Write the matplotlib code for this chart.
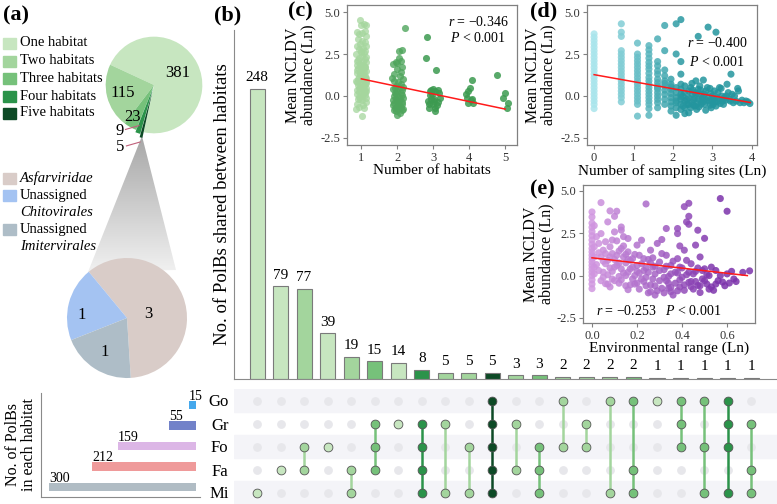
import numpy as np
import matplotlib
matplotlib.use('Agg')
import matplotlib.pyplot as plt
from matplotlib.patches import Rectangle, Polygon
from matplotlib.colors import LinearSegmentedColormap, Normalize

plt.rcParams['font.family'] = ['Liberation Serif', 'DejaVu Serif']
plt.rcParams['mathtext.fontset'] = 'custom'
plt.rcParams['mathtext.rm'] = 'Liberation Serif'
plt.rcParams['mathtext.it'] = 'Liberation Serif:italic'
plt.rcParams['axes.unicode_minus'] = False

# ---------------- data ----------------
habitats = ['Go', 'Gr', 'Fo', 'Fa', 'Mi']
habitat_sizes = [15, 55, 159, 212, 300]
habitat_colors = ['#45a8ec', '#7282c9', '#dcb6e6', '#ef9a9a', '#b0bcc4']

share_counts = [248, 79, 77, 39, 19, 15, 14, 8, 5, 5, 5, 3, 3, 2, 2, 2, 2, 1, 1, 1, 1, 1]
share_sets = ['Mi', 'Fa', 'Fo Fa', 'Fo', 'Fa Mi', 'Gr Fo Fa', 'Gr', 'Gr Fo Fa Mi',
              'Gr Mi', 'Fo Mi', 'Go Gr Fo Fa Mi', 'Gr Fa', 'Fo Fa Mi', 'Go Fo', 'Gr Fo',
              'Go Mi', 'Go Fa Mi', 'Go', 'Go Gr Fo', 'Go Fo Mi', 'Go Gr Fo Mi', 'Gr Fa Mi']

degree_labels = ['One habitat', 'Two habitats', 'Three habitats', 'Four habitats', 'Five habitats']
degree_counts = [381, 115, 23, 9, 5]
degree_colors = ['#c7e6c0', '#a3d59d', '#76c17a', '#2b934a', '#0d4a26']

taxa_counts = [3, 1, 1]
taxa_colors = ['#d9ccc8', '#a4c3f2', '#aebdc7']

# (c) abundance vs number of habitats
c_h1 = [(0.95, 4.55), (1.08, 4.30), (1.12, 4.25), (0.98, 4.20), (1.10, 3.85), (0.88, 3.80), (1.03, 3.75),
        (0.93, 3.70), (1.13, 3.55), (0.90, 3.40), (1.01, 3.30), (1.09, 3.20), (0.96, 3.10), (1.14, 3.00),
        (0.87, 2.95), (1.05, 2.85), (0.92, 2.80), (1.11, 2.70), (0.99, 2.65), (1.07, 2.55), (0.86, 2.50),
        (1.02, 2.40), (1.12, 2.35), (0.94, 2.25), (1.09, 2.20), (0.89, 2.10), (1.04, 2.05), (1.14, 2.00),
        (0.97, 1.90), (0.87, 1.85), (1.06, 1.80), (1.11, 1.70), (0.91, 1.65), (1.00, 1.60), (1.13, 1.50),
        (0.95, 1.45), (1.08, 1.40), (0.88, 1.35), (1.03, 1.25), (1.10, 1.20), (0.93, 1.15), (1.14, 1.05),
        (0.98, 1.00), (1.06, 0.95), (0.86, 0.90), (1.12, 0.80), (0.96, 0.75), (1.09, 0.70), (0.90, 0.65),
        (1.02, 0.55), (1.13, 0.50), (0.92, 0.45), (1.05, 0.40), (0.88, 0.35), (1.10, 0.25), (0.99, 0.20),
        (1.07, 0.15), (0.87, 0.10), (1.11, 0.05), (1.03, 0.00), (0.94, -0.05), (1.14, -0.10), (0.91, -0.20),
        (1.01, -0.25), (1.12, -0.35), (0.89, -0.45), (1.04, -0.55), (0.93, -0.65), (1.08, -0.70),
        (0.86, -0.80), (1.02, -1.20), (1.10, 1.75), (0.97, 1.30), (0.88, 0.85), (1.06, 0.60), (1.13, 0.30),
        (0.90, 2.15), (1.00, 2.60), (1.11, 1.10), (0.95, -0.15), (0.97, 0.50), (1.04, 1.55), (0.91, 1.00),
        (1.07, 0.35), (0.99, 1.85), (1.12, 0.90), (0.93, 0.25), (1.05, 1.15), (0.88, 1.55), (1.01, 0.80)]
c_h2 = [(2.20, 4.05), (2.12, 2.75), (2.05, 2.70), (1.95, 2.05), (2.10, 2.10), (1.88, 1.90), (2.13, 1.75),
        (2.00, 1.60), (1.92, 1.30), (2.08, 1.20), (2.15, 1.00), (1.90, 0.90), (2.02, 0.85), (2.10, 0.70),
        (1.95, 0.60), (2.06, 0.50), (1.88, 0.40), (2.14, 0.35), (2.00, 0.30), (1.93, 0.20), (2.09, 0.15),
        (1.97, 0.10), (2.12, 0.05), (1.90, 0.00), (2.04, -0.05), (2.15, -0.10), (1.95, -0.15), (2.07, -0.20),
        (1.87, -0.25), (2.00, -0.30), (2.12, -0.35), (1.92, -0.40), (2.05, -0.45), (2.14, -0.50),
        (1.89, -0.55), (1.98, -0.60), (2.10, -0.65), (1.93, -0.70), (2.03, -0.80), (2.13, -0.85),
        (1.95, -0.90), (2.08, -1.00), (2.00, -1.15), (1.90, -0.85), (2.16, 0.55), (1.86, 1.05),
        (2.11, 1.45), (1.99, 1.95), (2.06, 2.25), (1.94, 0.45), (2.02, -0.35), (2.17, -0.75)]
c_h3 = [(2.82, 3.53), (2.80, 2.25), (3.08, 1.57), (3.00, 0.43), (2.95, 0.35), (3.04, 0.29), (3.20, -0.10),
        (2.93, -0.20), (2.87, -0.69), (3.04, -0.69), (3.06, -0.92), (2.90, 0.05), (3.12, -0.35),
        (2.98, -0.45), (3.15, 0.20), (2.85, -0.30), (3.10, -0.55), (2.97, 0.10), (3.02, -0.15),
        (2.92, 0.30), (3.13, 0.38), (2.88, -0.50), (3.01, -0.30)]
c_h4 = [(4.07, 0.98), (4.03, 0.49), (3.98, 0.29), (3.94, -0.10), (4.07, -0.16), (4.10, -0.40),
        (3.98, -0.43), (4.05, -0.25), (3.92, 0.10)]
c_h5 = [(4.77, 1.27), (5.00, 0.20), (5.09, -0.40), (5.06, -0.73), (4.95, -0.10)]
c_fit_x = [1, 5]
c_fit_y = [1.02, -0.78]

# (d) abundance vs number of sampling sites (Ln)
d_strip_x = [0.00, 0.69, 1.10, 1.39, 1.61, 1.79, 1.95, 2.08, 2.20]
d_strip_y = [
    [3.7, 3.5, 3.3, 3.1, 2.9, 2.7, 2.5, 2.3, 2.1, 1.9, 1.7, 1.5, 1.3, 1.1, 0.9, 0.7, 0.5, 0.3, 0.1, -0.1, -0.3, -0.5, -0.75],
    [4.3, 3.8, 3.55, 2.7, 2.5, 2.3, 2.1, 1.9, 1.7, 1.5, 1.3, 1.1, 0.9, 0.7, 0.5, 0.3, 0.1, -0.1, -0.35],
    [3.15, 2.5, 2.3, 2.1, 1.9, 1.7, 1.5, 1.3, 1.1, 0.9, 0.7, 0.5, 0.3, 0.1, -0.1, -0.3, -0.5, -1.2],
    [3.0, 2.75, 2.5, 2.25, 2.0, 1.8, 1.6, 1.35, 1.1, 0.9, 0.7, 0.5, 0.3, 0.1, -0.1, -0.3, -0.5, -0.75, -1.15],
    [3.4, 2.05, 1.8, 1.5, 1.3, 1.0, 0.8, 0.6, 0.5, 0.4, 0.2, 0.0, -0.2, -0.4, -0.7],
    [4.2, 2.7, 1.55, 1.2, 0.9, 0.75, 0.6, 0.35, 0.1, -0.2, -0.5],
    [1.0, 0.7, 0.55, 0.4, 0.15, -0.1, -0.35, -0.6, -0.9],
    [4.3, 2.5, 0.5, 0.2, -0.1, -0.3, -0.4, -0.7, -1.15],
    [4.55, 2.05, 1.3, 0.7, 0.4, 0.1, -0.05, -0.2, -0.5, -0.8],
]
d_scatter = [(2.30, 0.60), (2.30, -0.30), (2.30, -0.70), (2.30, -1.05), (2.35, -0.50), (2.40, 0.30),
             (2.40, -0.10), (2.40, -1.00), (2.45, 0.50), (2.48, 0.75), (2.48, -0.40), (2.48, 0.10),
             (2.52, -0.20), (2.56, 0.20), (2.56, -0.60), (2.58, 0.90), (2.60, -0.80), (2.64, 3.55),
             (2.64, 0.40), (2.64, -0.20), (2.68, 0.60), (2.71, -0.50), (2.71, 0.10), (2.75, -0.10),
             (2.77, 0.95), (2.77, -0.35), (2.83, 0.30), (2.83, -0.85), (2.87, 0.50), (2.89, 4.10),
             (2.89, -0.10), (2.94, 0.45), (2.94, -0.55), (2.97, -0.70), (3.00, 0.00), (3.00, -0.30),
             (3.04, -0.15), (3.05, 0.30), (3.09, 3.80), (3.09, -0.60), (3.14, 0.20), (3.18, 0.50),
             (3.20, -0.45), (3.22, 0.45), (3.26, -0.30), (3.30, -0.10), (3.35, 0.00), (3.37, 0.70),
             (3.43, -0.20), (3.47, 1.30), (3.50, 0.10), (3.53, -0.40), (3.60, -0.30), (3.64, 0.45),
             (3.66, 0.30), (3.70, -0.40), (3.85, -0.30), (3.90, -0.35), (3.95, -0.45), (2.25, 0.00),
             (2.25, -0.60), (2.30, 0.20), (2.35, -0.20), (2.40, -0.50), (2.45, -0.70), (2.50, 0.35),
             (2.52, -0.55), (2.56, -0.10), (2.60, 0.15), (2.62, -0.45), (2.66, -0.65), (2.70, 0.35),
             (2.73, -0.20), (2.80, -0.50), (2.80, 0.10), (2.85, -0.25), (2.92, -0.30), (2.96, 0.15),
             (3.02, -0.50), (3.07, -0.35), (3.12, -0.10), (3.16, -0.30), (3.24, 0.00), (3.28, -0.50),
             (3.33, -0.25), (3.40, 0.20), (3.45, -0.30), (3.56, 0.00), (3.75, -0.25), (3.80, -0.40)]
d_fit_x = [0, 3.96]
d_fit_y = [1.27, -0.39]

# (e) abundance vs environmental range (Ln)
e_pts = [(0.00, 3.76), (0.00, 3.46), (0.00, 3.10), (0.00, 2.85), (0.00, 2.60), (0.00, 2.35), (0.00, 2.10),
         (0.00, 1.85), (0.00, 1.60), (0.00, 1.40), (0.00, 1.20), (0.00, 1.00), (0.00, 0.80), (0.00, 0.60),
         (0.00, 0.40), (0.00, 0.20), (0.00, 0.00), (0.00, -0.25), (0.00, -0.50), (0.00, -0.77),
         (0.01, 2.95), (0.01, 1.70), (0.01, 1.10), (0.01, 0.50), (0.01, 0.10),
         (0.02, 2.30), (0.03, 1.90), (0.03, 0.30), (0.04, 2.48), (0.04, 1.10), (0.04, 4.31), (0.05, 1.50),
         (0.05, -0.10), (0.05, 0.85), (0.06, 0.70), (0.06, 1.30), (0.06, -0.48), (0.07, 3.17), (0.07, 0.05),
         (0.07, -0.50), (0.08, 3.82), (0.08, 1.70), (0.08, -0.67), (0.08, 0.45), (0.09, 1.30), (0.09, 0.25),
         (0.09, 2.10), (0.10, 0.95), (0.10, -0.30), (0.10, 2.58), (0.10, 3.50), (0.11, 3.80), (0.11, 0.60),
         (0.11, 2.05), (0.12, -0.05), (0.12, -0.45), (0.12, 1.45), (0.13, 2.87), (0.13, 2.68), (0.13, 1.60),
         (0.13, 0.40), (0.14, 1.10), (0.14, 2.30), (0.14, 0.15), (0.15, 0.75), (0.15, 0.00), (0.15, -0.60),
         (0.16, -0.83), (0.16, 1.40), (0.16, 0.20), (0.16, 2.19),
         (0.17, 0.90), (0.17, -0.55), (0.18, 0.50), (0.18, -0.20), (0.19, 0.00), (0.19, 1.25), (0.20, 1.80),
         (0.20, -0.44), (0.21, 1.20), (0.21, -0.80), (0.22, 0.70), (0.22, 2.09), (0.23, 0.30), (0.23, -0.35),
         (0.24, -0.10), (0.24, 4.23), (0.24, 0.45), (0.25, -1.02), (0.25, 0.95), (0.26, 1.50), (0.26, -0.55),
         (0.27, 0.50), (0.27, 1.05), (0.28, -1.15), (0.28, 0.10), (0.28, -0.60), (0.29, 1.90), (0.30, 0.80),
         (0.30, -0.30), (0.31, 2.13), (0.31, -0.75), (0.32, -1.02), (0.32, 0.35), (0.33, 2.78), (0.33, 1.20),
         (0.34, -0.05), (0.34, -0.45), (0.35, 0.60), (0.35, -0.70), (0.35, -0.95),
         (0.36, -1.15), (0.37, 0.20), (0.38, 2.78), (0.38, 2.48), (0.38, 1.00), (0.38, 0.15), (0.39, -0.67),
         (0.39, -0.25), (0.39, 1.75), (0.40, 0.45), (0.41, 4.07), (0.41, -0.87), (0.41, 1.50), (0.42, 0.05),
         (0.42, 3.17), (0.43, 3.50), (0.43, 4.27), (0.43, 3.03), (0.43, -0.40), (0.44, 0.70), (0.44, -0.35),
         (0.45, -0.80), (0.46, 0.25), (0.46, 1.80), (0.47, -0.58), (0.47, 2.68), (0.48, 1.10), (0.48, -1.00),
         (0.49, -0.20), (0.50, 0.40), (0.50, 2.20), (0.51, -0.50), (0.52, 0.00), (0.53, -0.67), (0.54, -0.87),
         (0.55, 0.30), (0.56, -0.30), (0.57, 4.55), (0.58, -0.38), (0.60, 3.80), (0.60, 0.10), (0.61, -0.44),
         (0.63, -0.20), (0.67, 0.19), (0.70, 0.28),
         (0.02, 0.65), (0.03, 1.35), (0.04, -0.30), (0.05, 0.20), (0.06, 2.00), (0.07, 0.90), (0.08, 1.10),
         (0.09, -0.20), (0.10, 0.50), (0.11, 1.20), (0.12, 0.75), (0.13, -0.25), (0.14, 1.75), (0.15, 1.25),
         (0.17, 0.40), (0.18, 1.00), (0.19, -0.50), (0.20, 0.60), (0.21, 0.15), (0.22, -0.20), (0.23, 1.00),
         (0.24, -0.60), (0.25, 0.20), (0.26, 0.75), (0.27, -0.20), (0.28, 0.55), (0.29, -0.90), (0.30, 0.30),
         (0.31, 1.30), (0.32, -0.10), (0.33, 0.55), (0.34, -0.75), (0.35, 0.10), (0.36, 0.85), (0.37, -0.45),
         (0.38, -0.90), (0.39, 0.50), (0.40, -0.10), (0.41, -0.55), (0.42, 0.90), (0.43, 0.20), (0.44, -0.65),
         (0.45, 0.10), (0.46, -0.35), (0.47, 0.45), (0.48, -0.60), (0.49, 0.30), (0.50, -0.30), (0.51, 0.05),
         (0.52, -0.80), (0.53, 0.50), (0.55, -0.50), (0.57, 0.00), (0.59, -0.60), (0.62, 0.25), (0.64, -0.35),
         (0.16, 0.95), (0.20, 0.25), (0.26, -0.95), (0.33, -0.30)]
e_fit_x = [0, 0.69]
e_fit_y = [1.05, 0.0]

# ---------------- figure ----------------
W, H = 777, 504
fig = plt.figure(figsize=(W / 100, H / 100), dpi=100)


def box(l, t, r, b):
    # pixel box (left, top, right, bottom) -> figure fraction
    return [l / W, 1 - b / H, (r - l) / W, (b - t) / H]


# overlay for panel (a) legends and the connector
ax_o = fig.add_axes([0, 0, 1, 1])
ax_o.axis('off')
for y, lab, c in zip([43, 61, 78, 96, 113], degree_labels, degree_colors):
    ax_o.add_patch(Rectangle((3, y - 5.5), 13, 11, color=c))
    ax_o.text(20, y, lab, fontsize=10.5, va='center')
ax_o.add_patch(Rectangle((3, 173), 13, 11, color=taxa_colors[0]))
ax_o.text(20, 178, 'Asfarviridae', fontsize=10.5, va='center', style='italic')
ax_o.add_patch(Rectangle((3, 190), 13, 11, color=taxa_colors[1]))
ax_o.text(20, 196, 'Unassigned', fontsize=10.5, va='center')
ax_o.text(20, 212, 'Chitovirales', fontsize=10.5, va='center', style='italic')
ax_o.add_patch(Rectangle((3, 224), 13, 11, color=taxa_colors[2]))
ax_o.text(20, 230, 'Unassigned', fontsize=10.5, va='center')
ax_o.text(20, 246, 'Imitervirales', fontsize=10.5, va='center', style='italic')

tri = Polygon([(142, 136), (88, 272), (176, 270)], closed=True, facecolor='none', edgecolor='none')
ax_o.add_patch(tri)
grad = np.linspace(0, 1, 100).reshape(-1, 1)
gcmap = LinearSegmentedColormap.from_list('g', ['#a4a4a4', '#f2f2f2'])
im = ax_o.imshow(grad, cmap=gcmap, extent=(80, 185, 275, 130), origin='upper', aspect='auto')
im.set_clip_path(tri)
ax_o.set_xlim(0, W)
ax_o.set_ylim(H, 0)

# top pie
ax_p1 = fig.add_axes(box(154 - 58, 85 - 58, 154 + 58, 85 + 58))
w1, _ = ax_p1.pie(degree_counts, colors=degree_colors, startangle=257.8,
                  explode=[0, 0, 0, 0.05, 0.12], wedgeprops=dict(linewidth=0))
ax_p1.set_xlim(-1.2, 1.2)
ax_p1.set_ylim(-1.2, 1.2)
for w, n, r, da in zip(w1[:3], degree_counts[:3], [0.55, 0.66, 0.8], [0, 0, -4]):
    a = np.deg2rad((w.theta1 + w.theta2) / 2 + da)
    ax_p1.text(r * np.cos(a), r * np.sin(a), str(n), ha='center', va='center', fontsize=12)
for n, tx, ty in zip(degree_counts[3:], [-0.72, -0.70], [-0.95, -1.29]):
    ax_p1.plot([tx + 0.13, tx + 0.41], [ty + 0.03, ty + 0.11], color='#c0607a', lw=0.8, clip_on=False)
    ax_p1.text(tx, ty, str(n), ha='center', va='center', fontsize=12)

# bottom pie
ax_p2 = fig.add_axes(box(127 - 72, 318 - 72, 127 + 72, 318 + 72))
w2, _ = ax_p2.pie(taxa_counts, colors=taxa_colors, startangle=273.6, wedgeprops=dict(linewidth=0))
ax_p2.set_xlim(-1.2, 1.2)
ax_p2.set_ylim(-1.2, 1.2)
for w, n, r, da in zip(w2, taxa_counts, [0.36, 0.75, 0.68], [-10, 10, 0]):
    a = np.deg2rad((w.theta1 + w.theta2) / 2 + da)
    ax_p2.text(r * np.cos(a), r * np.sin(a), str(n), ha='center', va='center', fontsize=12)

# (b) intersection bars
xs = np.arange(len(share_counts))
degree = [len(s.split()) for s in share_sets]
bar_cols = [degree_colors[d - 1] for d in degree]
ax_b = fig.add_axes(box(234, 30, 777, 379))
ax_b.bar(xs, share_counts, width=0.64, color=bar_cols, edgecolor='#7a7a7a', linewidth=0.8)
for x, v in zip(xs, share_counts):
    ax_b.text(x, v + 4, str(v), ha='center', va='bottom', fontsize=11)
ax_b.set_xlim(-0.98, 22.1)
ax_b.set_ylim(0, 298)
ax_b.set_xticks([])
ax_b.set_yticks([])
for s in ['top', 'right']:
    ax_b.spines[s].set_visible(False)
for s in ['left', 'bottom']:
    ax_b.spines[s].set_color('#8a8a8a')
ax_b.set_ylabel('No. of PolBs shared between habitats', fontsize=13.5, labelpad=2)

# matrix
ax_m = fig.add_axes(box(234, 389, 777, 504))
ax_m.set_xlim(-0.98, 22.1)
ax_m.set_ylim(4.5, -0.5)
for i in range(0, 5, 2):
    ax_m.axhspan(i - 0.5, i + 0.5, color='#f4f4f8', zorder=0)
for x, s, c in zip(xs, share_sets, bar_cols):
    rows = [habitats.index(h) for h in s.split()]
    off = [r for r in range(5) if r not in rows]
    ax_m.scatter([x] * len(off), off, s=40, color='#e7e7eb', linewidths=0, zorder=2)
    if len(rows) > 1:
        ax_m.plot([x, x], [min(rows), max(rows)], color=c, lw=1.8, zorder=2)
    ax_m.scatter([x] * len(rows), rows, s=40, color=c, edgecolor='#555555', linewidths=0.6, zorder=3)
ax_m.set_xticks([])
ax_m.set_yticks(range(5), habitats, fontsize=12)
ax_m.tick_params(length=0, pad=4)
for sp in ax_m.spines.values():
    sp.set_visible(False)

# set sizes
ax_s = fig.add_axes(box(41, 393, 200, 497))
ax_s.barh(range(5), habitat_sizes, height=0.42, color=habitat_colors)
for i, v in enumerate(habitat_sizes):
    ax_s.text(v, i - 0.25, str(v), ha='left', va='baseline', fontsize=10)
ax_s.set_xlim(316, -8)
ax_s.set_ylim(4.49, -0.585)
ax_s.set_xticks([])
ax_s.set_yticks([])
for s in ['top', 'right']:
    ax_s.spines[s].set_visible(False)
for s in ['left', 'bottom']:
    ax_s.spines[s].set_color('#8a8a8a')
ax_s.set_ylabel('No. of PolBs\nin each habitat', fontsize=11.5, labelpad=3, linespacing=0.95)


def style_scatter(ax):
    for sp in ax.spines.values():
        sp.set_color('#808080')
        sp.set_linewidth(0.9)
    ax.tick_params(length=3, width=0.8, color='#808080', labelsize=9, pad=2, labelcolor='#333333')
    ax.set_yticks([-2.5, 0, 2.5, 5.0])
    ax.yaxis.set_major_formatter('{x:.1f}')


# (c)
ax_c = fig.add_axes(box(347, 5, 517, 145))
for pts, col, al in [(c_h1, '#a5d69d', 0.75), (c_h2, '#4fa55c', 0.8), (c_h3, '#3c9a50', 0.85),
                     (c_h4, '#3c9a50', 0.85), (c_h5, '#3c9a50', 0.85)]:
    px, py = np.array(pts).T
    ax_c.scatter(px, py, s=26, color=col, alpha=al, linewidths=0)
ax_c.plot(c_fit_x, c_fit_y, color='#ff1a1a', lw=1.1)
ax_c.set_xlim(0.6, 5.33)
ax_c.set_ylim(-2.92, 5.42)
ax_c.set_xticks([1, 2, 3, 4, 5])
style_scatter(ax_c)
ax_c.text(0.77, 0.82, '$r$ = −0.346\n$P$ < 0.001', transform=ax_c.transAxes,
          ha='center', va='center', fontsize=10, linespacing=1.2)
ax_c.set_xlabel('Number of habitats', fontsize=11, labelpad=0)
ax_c.set_ylabel('Mean NCLDV\nabundance (Ln)', fontsize=11.5, labelpad=3, linespacing=0.95)

# (d)
dx = [x for x, ys in zip(d_strip_x, d_strip_y) for _ in ys] + [p[0] for p in d_scatter]
dy = [y for ys in d_strip_y for y in ys] + [p[1] for p in d_scatter]
dcmap = LinearSegmentedColormap.from_list('d', ['#a9e5ec', '#23959e'])
ax_d = fig.add_axes(box(587, 5, 757, 145))
ax_d.scatter(dx, dy, s=26, c=dx, cmap=dcmap, norm=Normalize(0, 2.3), alpha=0.85, linewidths=0)
ax_d.plot(d_fit_x, d_fit_y, color='#ff1a1a', lw=1.1)
ax_d.set_xlim(-0.18, 4.13)
ax_d.set_ylim(-2.92, 5.42)
ax_d.set_xticks([0, 1, 2, 3, 4])
style_scatter(ax_d)
ax_d.text(0.765, 0.66, '$r$ = −0.400\n$P$ < 0.001', transform=ax_d.transAxes,
          ha='center', va='center', fontsize=10, linespacing=1.5)
ax_d.set_xlabel('Number of sampling sites (Ln)', fontsize=11, labelpad=0)
ax_d.set_ylabel('Mean NCLDV\nabundance (Ln)', fontsize=11.5, labelpad=3, linespacing=0.95)

# (e)
ex, ey = np.array(e_pts).T
ecmap = LinearSegmentedColormap.from_list('e', ['#d197e0', '#7c32ab'])
ax_e = fig.add_axes(box(583, 185, 755, 323))
ax_e.scatter(ex, ey, s=26, c=ex, cmap=ecmap, norm=Normalize(0, 0.55), alpha=0.85, linewidths=0)
ax_e.plot(e_fit_x, e_fit_y, color='#ff1a1a', lw=1.1)
ax_e.set_xlim(-0.04, 0.724)
ax_e.set_ylim(-2.8, 5.35)
ax_e.set_xticks([0, 0.2, 0.4, 0.6])
ax_e.xaxis.set_major_formatter('{x:.1f}')
style_scatter(ax_e)
ax_e.text(0.44, 0.087, '$r$ = −0.253   $P$ < 0.001', transform=ax_e.transAxes,
          ha='center', va='center', fontsize=10)
ax_e.set_xlabel('Environmental range (Ln)', fontsize=11, labelpad=0)
ax_e.set_ylabel('Mean NCLDV\nabundance (Ln)', fontsize=11.5, labelpad=1, linespacing=0.95)

# panel labels
for lab, px, py in [('(a)', 3, 15), ('(b)', 214, 15), ('(c)', 288, 11), ('(d)', 530, 11), ('(e)', 530, 189)]:
    fig.text(px / W, 1 - py / H, lab, fontsize=16, fontweight='bold', ha='left', va='center')

fig.savefig('out.png', dpi=100)
